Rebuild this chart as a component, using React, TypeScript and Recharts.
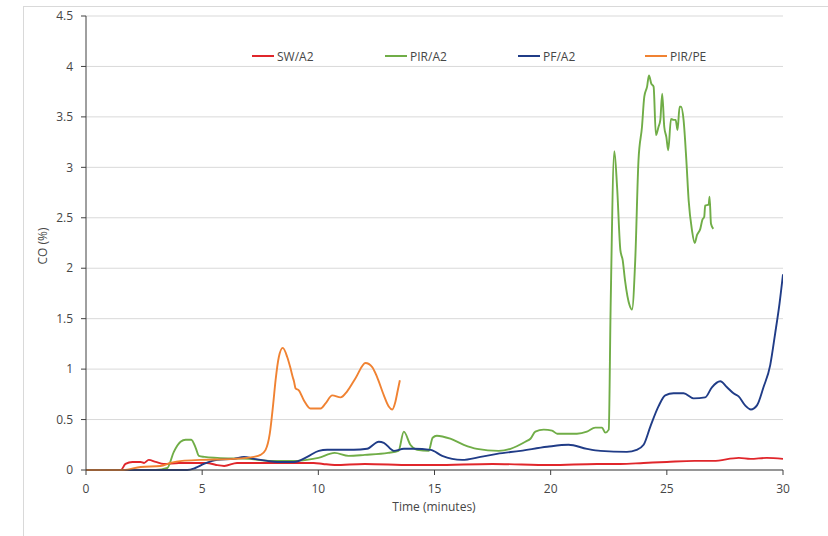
import { LineChart, Line, XAxis, YAxis, CartesianGrid } from "recharts";

// CO readings, time in minutes / CO in %
const SW_T = [0, 1.5, 1.7, 2.0, 2.35, 2.5, 2.7, 3.0, 3.35, 4.0, 5.2, 5.6, 5.95, 6.5, 7.4, 8.5, 9.8, 10.2, 10.7, 12, 14, 15, 17.5, 20, 22, 23, 24, 25, 26.2, 27, 28.1, 28.6, 29.3, 30];
const SW_CO = [0, 0, 0.06, 0.08, 0.08, 0.07, 0.1, 0.08, 0.06, 0.07, 0.07, 0.05, 0.04, 0.07, 0.07, 0.07, 0.07, 0.06, 0.05, 0.06, 0.05, 0.05, 0.06, 0.05, 0.06, 0.06, 0.07, 0.08, 0.09, 0.09, 0.12, 0.11, 0.12, 0.11];

const PIR_T = [0, 3.0, 3.5, 3.78, 4.07, 4.29, 4.53, 4.72, 4.86, 5.1, 5.65, 7.0, 8.0, 9.0, 9.5, 10.0, 10.7, 11.3, 12.0, 13.0, 13.45, 13.68, 13.96, 14.25, 14.75, 14.92, 15.1, 15.68, 16.26, 16.83, 17.76, 18.27, 18.91, 19.13, 19.34, 19.7, 20.06, 20.28, 21.13, 21.56, 21.92, 22.21, 22.35, 22.5, 22.58, 22.74, 22.86, 23.0, 23.1, 23.2, 23.4, 23.5, 23.64, 23.78, 23.93, 24.03, 24.15, 24.23, 24.33, 24.43, 24.53, 24.64, 24.72, 24.8, 24.89, 24.98, 25.06, 25.18, 25.29, 25.38, 25.46, 25.55, 25.61, 25.72, 25.84, 25.94, 26.08, 26.2, 26.3, 26.44, 26.53, 26.61, 26.65, 26.8, 26.84, 26.9, 27.0];
const PIR_CO = [0, 0, 0.02, 0.18, 0.28, 0.3, 0.3, 0.22, 0.14, 0.13, 0.12, 0.11, 0.09, 0.09, 0.1, 0.12, 0.17, 0.14, 0.15, 0.17, 0.19, 0.38, 0.25, 0.2, 0.19, 0.32, 0.34, 0.31, 0.25, 0.21, 0.19, 0.21, 0.28, 0.31, 0.38, 0.4, 0.39, 0.36, 0.36, 0.38, 0.42, 0.42, 0.37, 0.4, 1.6, 3.16, 2.8, 2.18, 2.08, 1.88, 1.63, 1.59, 2.08, 3.07, 3.4, 3.7, 3.8, 3.91, 3.83, 3.8, 3.32, 3.4, 3.47, 3.73, 3.4, 3.3, 3.17, 3.48, 3.47, 3.47, 3.37, 3.6, 3.6, 3.47, 3.07, 2.67, 2.38, 2.25, 2.33, 2.39, 2.48, 2.51, 2.62, 2.63, 2.71, 2.44, 2.39];

const PF_T = [0, 4.36, 4.7, 5.07, 5.65, 6.37, 6.8, 7.23, 7.8, 8.23, 8.95, 9.52, 10.02, 10.38, 11.53, 12.1, 12.6, 12.82, 13.25, 13.68, 14.1, 14.83, 15.33, 16.19, 16.98, 17.69, 18.7, 19.85, 20.77, 21.56, 22.14, 23.28, 23.7, 24.0, 24.29, 24.64, 24.93, 25.29, 25.72, 26.15, 26.65, 26.94, 27.3, 27.59, 27.87, 28.09, 28.37, 28.62, 28.88, 29.16, 29.45, 29.66, 29.85, 30];
const PF_CO = [0, 0, 0.02, 0.06, 0.1, 0.11, 0.13, 0.11, 0.09, 0.08, 0.08, 0.13, 0.19, 0.2, 0.2, 0.21, 0.28, 0.27, 0.19, 0.21, 0.21, 0.2, 0.14, 0.1, 0.13, 0.16, 0.19, 0.23, 0.25, 0.21, 0.19, 0.18, 0.2, 0.25, 0.43, 0.63, 0.74, 0.76, 0.76, 0.71, 0.72, 0.82, 0.88, 0.82, 0.76, 0.73, 0.64, 0.6, 0.64, 0.82, 1.04, 1.35, 1.65, 1.94];

const PE_T = [0, 1.6, 2.35, 3.2, 3.64, 4.14, 4.93, 6.37, 7.23, 7.51, 7.73, 7.91, 8.06, 8.16, 8.3, 8.47, 8.66, 8.8, 8.9, 8.95, 9.02, 9.16, 9.38, 9.66, 10.1, 10.31, 10.6, 10.96, 11.24, 11.6, 12.03, 12.32, 12.53, 12.82, 13.03, 13.18, 13.32, 13.42, 13.51];
const PE_CO = [0, 0, 0.03, 0.04, 0.07, 0.09, 0.1, 0.11, 0.13, 0.15, 0.2, 0.36, 0.66, 0.89, 1.12, 1.21, 1.12, 1.01, 0.92, 0.88, 0.81, 0.79, 0.69, 0.61, 0.61, 0.66, 0.74, 0.72, 0.78, 0.91, 1.06, 1.02, 0.92, 0.74, 0.63, 0.6, 0.68, 0.79, 0.89];

const X_TICKS = [0, 5, 10, 15, 20, 25, 30];
const Y_TICKS = [0, 0.5, 1, 1.5, 2, 2.5, 3, 3.5, 4, 4.5];

const toRows = (t: number[], v: number[]) => t.map((x, i) => ({ t: x, co: v[i] }));

const SERIES = [
  { name: "SW/A2", color: "#e0262b", data: toRows(SW_T, SW_CO), legendX: 252 },
  { name: "PIR/A2", color: "#70ad47", data: toRows(PIR_T, PIR_CO), legendX: 385 },
  { name: "PF/A2", color: "#203c87", data: toRows(PF_T, PF_CO), legendX: 518 },
  { name: "PIR/PE", color: "#f08232", data: toRows(PE_T, PE_CO), legendX: 645 },
];

const FONT = "'Open Sans', sans-serif";
const TEXT = "#464646";
const AXIS = "#404040";

export default function App() {
  return (
    <div
      style={{
        position: "absolute",
        left: 0,
        top: 0,
        width: 828,
        height: 536,
        background: "#fff",
        fontFamily: FONT,
        overflow: "hidden",
      }}
    >
      <div
        style={{
          position: "absolute",
          left: 23,
          top: 6,
          width: 810,
          height: 540,
          borderLeft: "1px solid #d9d9d9",
          borderTop: "1px solid #d9d9d9",
        }}
      />
      <LineChart width={828} height={536} margin={{ top: 16, right: 45, bottom: 36, left: 46 }}>
        <CartesianGrid vertical={false} stroke="#d9d9d9" />
        <XAxis
          type="number"
          dataKey="t"
          domain={[0, 30]}
          ticks={X_TICKS}
          height={30}
          stroke={AXIS}
          tickSize={5}
          tickMargin={9}
          tick={{ fontSize: 12, fill: TEXT, fontFamily: FONT }}
          allowDataOverflow
        />
        <YAxis
          type="number"
          domain={[0, 4.5]}
          ticks={Y_TICKS}
          width={40}
          stroke={AXIS}
          tickSize={5}
          tickMargin={8}
          tick={{ fontSize: 12, fill: TEXT, fontFamily: FONT }}
        />
        {SERIES.map((s) => (
          <Line
            key={s.name}
            data={s.data}
            dataKey="co"
            name={s.name}
            type="monotone"
            stroke={s.color}
            strokeWidth={1.9}
            dot={false}
            activeDot={false}
            isAnimationActive={false}
          />
        ))}
      </LineChart>

      {SERIES.map((s) => (
        <div
          key={s.name}
          style={{ position: "absolute", left: s.legendX, top: 47, display: "flex", alignItems: "center", height: 18 }}
        >
          <span style={{ display: "inline-block", width: 22, height: 2, background: s.color, marginRight: 3 }} />
          <span style={{ fontSize: 12, color: TEXT }}>{s.name}</span>
        </div>
      ))}

      <div
        style={{
          position: "absolute",
          left: 42,
          top: 246,
          transform: "translate(-50%, -50%) rotate(-90deg)",
          fontSize: 12,
          color: TEXT,
          whiteSpace: "nowrap",
        }}
      >
        CO (%)
      </div>
      <div
        style={{
          position: "absolute",
          left: 434,
          top: 506,
          transform: "translate(-50%, -50%)",
          fontSize: 12,
          color: TEXT,
          whiteSpace: "nowrap",
        }}
      >
        Time (minutes)
      </div>
    </div>
  );
}
